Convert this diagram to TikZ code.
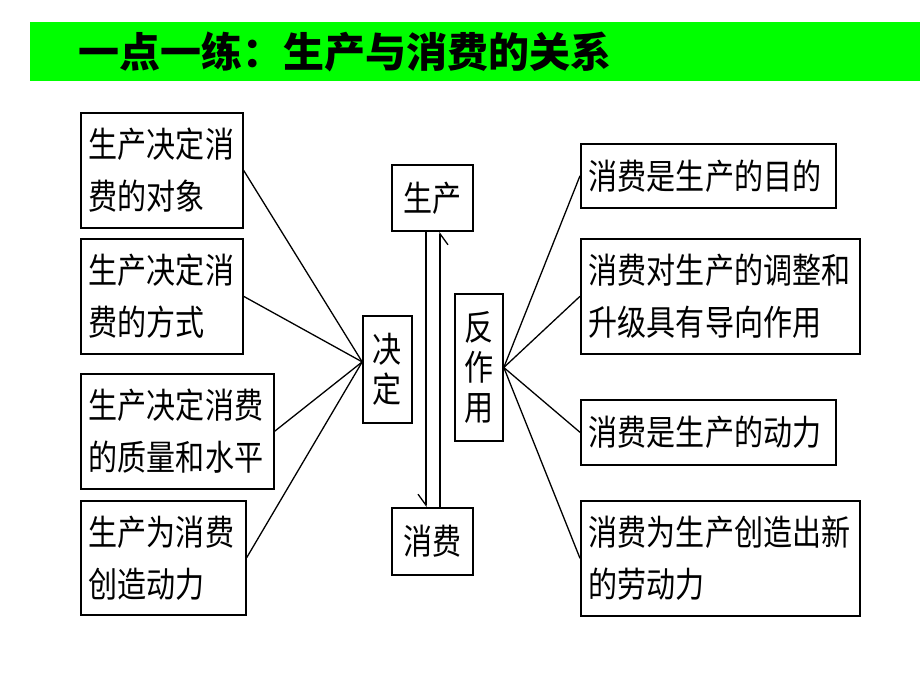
\documentclass[tikz,border=0pt]{standalone}
\usepackage{fontspec}
\newfontfamily\cjk[FakeStretch=0.83]{Noto Sans CJK SC}
\newfontfamily\cjktitle{Noto Sans CJK SC}
\usetikzlibrary{arrows.meta,calc}
\begin{document}
\begin{tikzpicture}[x=1pt,y=-1pt,
 box/.style={draw, line width=1.6pt, anchor=north west, inner xsep=8pt, inner ysep=0pt, align=left, font=\cjk\fontsize{35}{52}\selectfont},
 cbox/.style={draw, line width=1.6pt, inner sep=0pt, align=center, font=\cjk\fontsize{35}{40}\selectfont},
 link/.style={line width=1.3pt},
 barb/.style={-{Straight Barb[harpoon,swap,length=11pt,width=16pt,line width=1.3pt]}}
]
\useasboundingbox[fill=white] (0,0) rectangle (920,690);
\node[fill=green, anchor=north west, minimum width=890pt, minimum height=59pt, inner sep=0pt] (bar) at (30,22) {};
\node[anchor=west, font=\cjktitle\bfseries\fontsize{41}{41}\selectfont, inner sep=0pt] (title) at (78,52) {一点一练：生产与消费的关系};

\node[box, text width=146pt, minimum height=115pt] (l1) at (80,112) {生产决定消\\费的对象};
\node[box, text width=146pt, minimum height=115pt] (l2) at (80,238) {生产决定消\\费的方式};
\node[box, text width=177pt, minimum height=115pt] (l3) at (80,373) {生产决定消费\\的质量和水平};
\node[box, text width=149pt, minimum height=114pt] (l4) at (80,500) {生产为消费\\创造动力};

\node[cbox, minimum width=81pt, minimum height=66pt] (sc) at (432.5,198) {生产};
\node[cbox, minimum width=81pt, minimum height=67pt] (xf) at (432.5,541.5) {消费};
\node[cbox, minimum width=49pt, minimum height=107pt] (jd) at (387.5,369.5) {决\\定};
\node[cbox, minimum width=48pt, minimum height=147pt] (fzy) at (479,367.5) {反\\作\\用};

\node[box, text width=239pt, minimum height=64pt] (r1) at (580,143) {消费是生产的目的};
\node[box, text width=263pt, minimum height=115pt] (r2) at (580,238) {消费对生产的调整和\\升级具有导向作用};
\node[box, text width=239pt, minimum height=65pt] (r3) at (580,399) {消费是生产的动力};
\node[box, text width=263pt, minimum height=115pt] (r4) at (580,500) {消费为生产创造出新\\的劳动力};

\coordinate (jdin) at ($(jd.north west)!0.43!(jd.south west)$);
\draw[link] (l1.east) -- (jdin);
\draw[link] (l2.east) -- (jdin);
\draw[link] (l3.east) -- (jdin);
\draw[link] (l4.east) -- (jdin);

\draw[link] (fzy.east) -- (r1.west);
\draw[link] (fzy.east) -- (r2.west);
\draw[link] (fzy.east) -- (r3.west);
\draw[link] (fzy.east) -- (r4.west);

\draw[link, barb] ([xshift=-6.5pt]sc.south) -- ([xshift=-6.5pt]xf.north);
\draw[link, barb] ([xshift=7.5pt]xf.north) -- ([xshift=7.5pt]sc.south);
\end{tikzpicture}
\end{document}
